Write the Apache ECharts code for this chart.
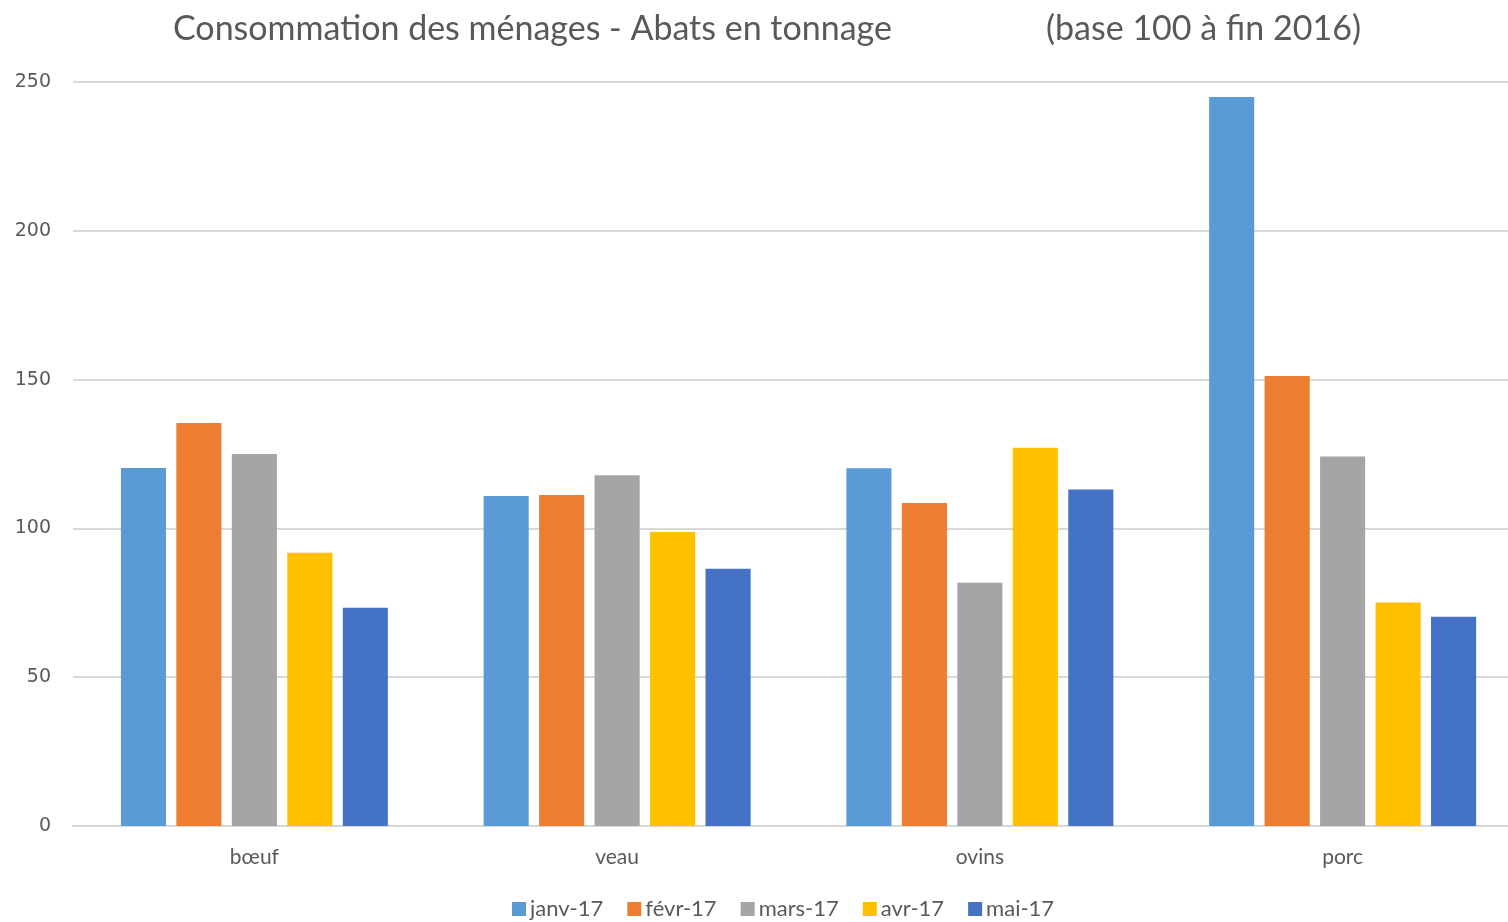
<!DOCTYPE html>
<html>
<head>
<meta charset="utf-8">
<script src="https://cdn.jsdelivr.net/npm/echarts@6/dist/echarts.min.js"></script>
<style>
  html, body { margin: 0; padding: 0; background: #fff; }
  #main { width: 1508px; height: 922px; }
</style>
</head>
<body>
<div id="main"></div>
<script>
// categories and months
var categories = ['bœuf', 'veau', 'ovins', 'porc'];
var months = ['janv-17', 'févr-17', 'mars-17', 'avr-17', 'mai-17'];

// values per month (base 100 à fin 2016)
var janv = [120.3, 110.9, 120.2, 245];
var fevr = [135.4, 111.2, 108.5, 151.2];
var mars = [125.0, 117.9, 81.7, 124.2];
var avr  = [91.8, 98.8, 127.1, 75.1];
var mai  = [73.3, 86.4, 113.1, 70.3];

var yTicks = [0, 50, 100, 150, 200, 250];

var colors = ['#5b9bd5', '#ed7d31', '#a5a5a5', '#ffc000', '#4472c4'];
var seriesData = [janv, fevr, mars, avr, mai];

var chart = echarts.init(document.getElementById('main'));

var option = {
    animation: false,
    color: colors,
    title: [
        {
            text: 'Consommation des ménages - Abats en tonnage',
            left: 168, top: 7,
            textStyle: { fontFamily: 'Lato', fontSize: 34, fontWeight: 'normal', color: '#595959' }
        },
        {
            text: '(base 100 à fin 2016)',
            left: 1041, top: 7,
            textStyle: { fontFamily: 'Lato', fontSize: 34, fontWeight: 'normal', color: '#595959' }
        }
    ],
    legend: {
        data: months,
        bottom: -3,
        left: 507,
        icon: 'rect',
        itemWidth: 14,
        itemHeight: 14,
        itemGap: 24,
        textStyle: { fontFamily: 'Lato', fontSize: 22, color: '#595959', padding: [0, 0, 0, -1] }
    },
    grid: {
        left: 73, width: 1451, top: 82, bottom: 96,
        outerBoundsMode: 'none'
    },
    xAxis: {
        type: 'category',
        data: categories,
        axisLine: { lineStyle: { color: '#d9d9d9', width: 2 } },
        axisTick: { show: false },
        axisLabel: { fontFamily: 'Lato', fontSize: 21, color: '#595959', margin: 21 }
    },
    yAxis: {
        type: 'value',
        min: yTicks[0],
        max: yTicks[yTicks.length - 1],
        interval: 50,
        axisLine: { show: false },
        axisTick: { show: false },
        splitLine: { lineStyle: { color: '#d9d9d9', width: 2 } },
        axisLabel: { fontFamily: 'DejaVu Sans', fontSize: 19, color: '#595959', margin: 22 }
    },
    series: months.map(function (m, i) {
        return {
            name: m,
            type: 'bar',
            data: seriesData[i],
            barGap: '23%',
            barCategoryGap: '26.4%'
        };
    })
};

chart.setOption(option);
</script>
</body>
</html>
